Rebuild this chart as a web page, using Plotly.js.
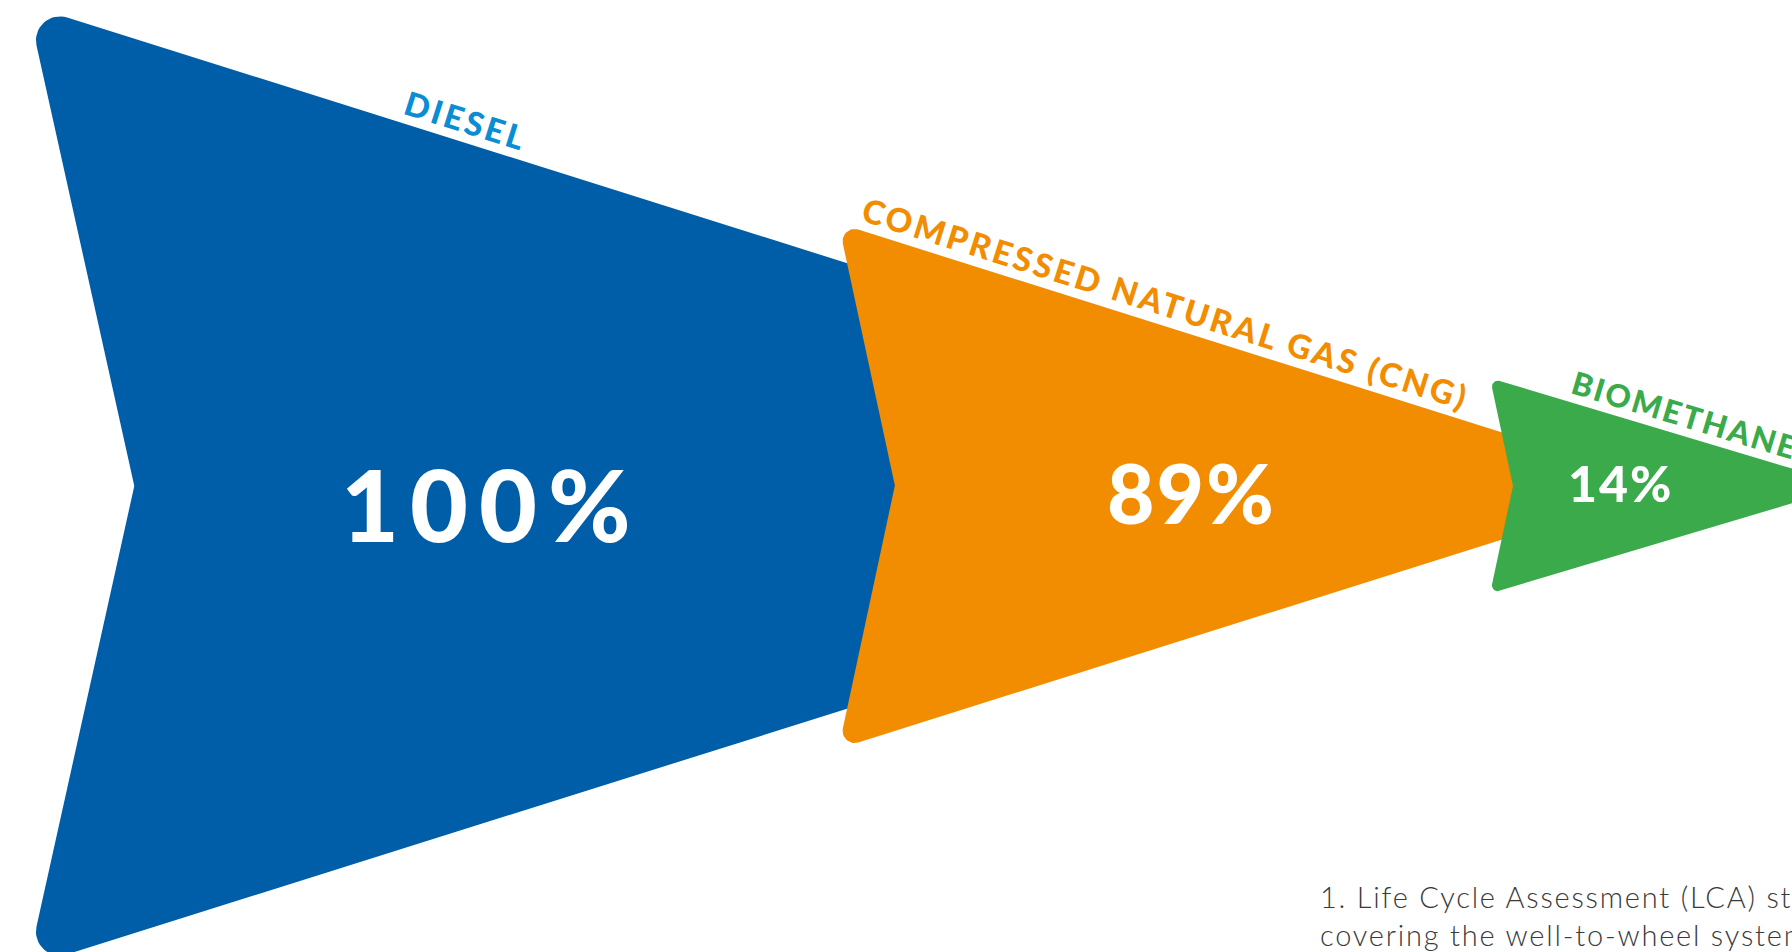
<!DOCTYPE html>
<html><head><meta charset="utf-8">
<script src="https://cdn.plot.ly/plotly-3.0.1.min.js"></script>
<style>
html,body{margin:0;padding:0;background:#fff;overflow:hidden}
#chart{width:1792px;height:952px}
g.annotation[data-index="0"] text, g.annotation[data-index="1"] text{letter-spacing:3px}
g.annotation[data-index="2"] text{letter-spacing:2.2px}
g.annotation[data-index="3"] text{letter-spacing:11px}
g.annotation[data-index="4"] text, g.annotation[data-index="5"] text{letter-spacing:2px}
g.annotation[data-index="6"] text{letter-spacing:1.8px}
</style></head><body><div id="chart"></div>
<script>
// ---- data ----
const categories = ['DIESEL', 'COMPRESSED NATURAL GAS (CNG)', 'BIOMETHANE'];
const values = [100, 89, 14];
const valueSuffix = '%';
const footnoteLines = ['1. Life Cycle Assessment (LCA) study', 'covering the well-to-wheel system'];

// ---- style ----
const fillColors = ['#005EA8', '#F28C00', '#3AAA4A'];
const labelColors = ['#0A8DD3', '#F28C00', '#3AAA4A'];
const labelFontSizes = [33, 33, 31.5];
const valueFontSizes = [100, 82, 50];

// ---- geometry (axis units = px) ----
const W = 1792, H = 952, CY = 486;
const geom = [
  {x0: 27.5, h: 481, s: 0.315, k: 0.222, r: 24, rn: 3},
  {x0: 838.5, h: 262.6, s: 0.315, k: 0.215, r: 12, rn: 2},
  {x0: 1490, h: 108, s: 0.30, k: 0.213, r: 6, rn: 1}
];
const labelPos = [[466, 120], [1166, 303], [1685, 415]];
const valuePos = [[491, 503], [1191, 492], [1620, 483]];

function roundedPoly(pts, radii, seg) {
  const out = [], n = pts.length;
  for (let i = 0; i < n; i++) {
    const P = pts[i], A = pts[(i - 1 + n) % n], B = pts[(i + 1) % n], r = radii[i];
    if (!r) { out.push(P); continue; }
    let ux = A[0] - P[0], uy = A[1] - P[1]; const lu = Math.hypot(ux, uy); ux /= lu; uy /= lu;
    let vx = B[0] - P[0], vy = B[1] - P[1]; const lv = Math.hypot(vx, vy); vx /= lv; vy /= lv;
    const th = Math.acos(Math.max(-1, Math.min(1, ux * vx + uy * vy)));
    const d = r / Math.tan(th / 2);
    const T1 = [P[0] + ux * d, P[1] + uy * d], T2 = [P[0] + vx * d, P[1] + vy * d];
    let bx = ux + vx, by = uy + vy; const lb = Math.hypot(bx, by); bx /= lb; by /= lb;
    const cd = r / Math.sin(th / 2);
    const C = [P[0] + bx * cd, P[1] + by * cd];
    const a1 = Math.atan2(T1[1] - C[1], T1[0] - C[0]);
    let da = Math.atan2(T2[1] - C[1], T2[0] - C[0]) - a1;
    while (da > Math.PI) da -= 2 * Math.PI;
    while (da < -Math.PI) da += 2 * Math.PI;
    for (let j = 0; j <= seg; j++) {
      const a = a1 + da * j / seg;
      out.push([C[0] + r * Math.cos(a), C[1] + r * Math.sin(a)]);
    }
  }
  out.push(out[0]);
  return out;
}

const traces = categories.map((c, i) => {
  const g = geom[i];
  const pts = [[g.x0, CY - g.h], [g.x0 + g.h / g.s, CY], [g.x0, CY + g.h], [g.x0 + g.k * g.h, CY]];
  const poly = roundedPoly(pts, [g.r, 0, g.r, g.rn], 16);
  return {
    type: 'scatter', mode: 'lines', fill: 'toself',
    x: poly.map(p => p[0]), y: poly.map(p => p[1]),
    line: {width: 0, color: fillColors[i]}, fillcolor: fillColors[i],
    hoverinfo: 'skip', name: c
  };
});

const annotations = [];
categories.forEach((c, i) => {
  annotations.push({
    x: labelPos[i][0], y: labelPos[i][1], xref: 'x', yref: 'y',
    text: c, showarrow: false, textangle: Math.atan(geom[i].s) * 180 / Math.PI,
    xanchor: 'center', yanchor: 'middle',
    font: {family: 'Lato', size: labelFontSizes[i], weight: 900, color: labelColors[i]}
  });
});
values.forEach((v, i) => {
  annotations.push({
    x: valuePos[i][0], y: valuePos[i][1], xref: 'x', yref: 'y',
    text: v + valueSuffix, showarrow: false,
    xanchor: 'center', yanchor: 'middle',
    font: {family: 'Lato', size: valueFontSizes[i], weight: 900, color: '#FFFFFF'}
  });
});
annotations.push({
  x: 1318, y: 915, xref: 'x', yref: 'y', text: footnoteLines.join('<br>'),
  showarrow: false, xanchor: 'left', yanchor: 'middle', align: 'left',
  font: {family: 'Lato', size: 29, weight: 300, color: '#3A3A3A'}
});

Plotly.newPlot('chart', traces, {
  width: W, height: H,
  margin: {l: 0, r: 0, t: 0, b: 0},
  paper_bgcolor: '#FFFFFF', plot_bgcolor: '#FFFFFF',
  showlegend: false,
  xaxis: {range: [0, W], visible: false, fixedrange: true},
  yaxis: {range: [H, 0], visible: false, fixedrange: true},
  annotations: annotations
}, {displayModeBar: false, staticPlot: true});
</script></body></html>
